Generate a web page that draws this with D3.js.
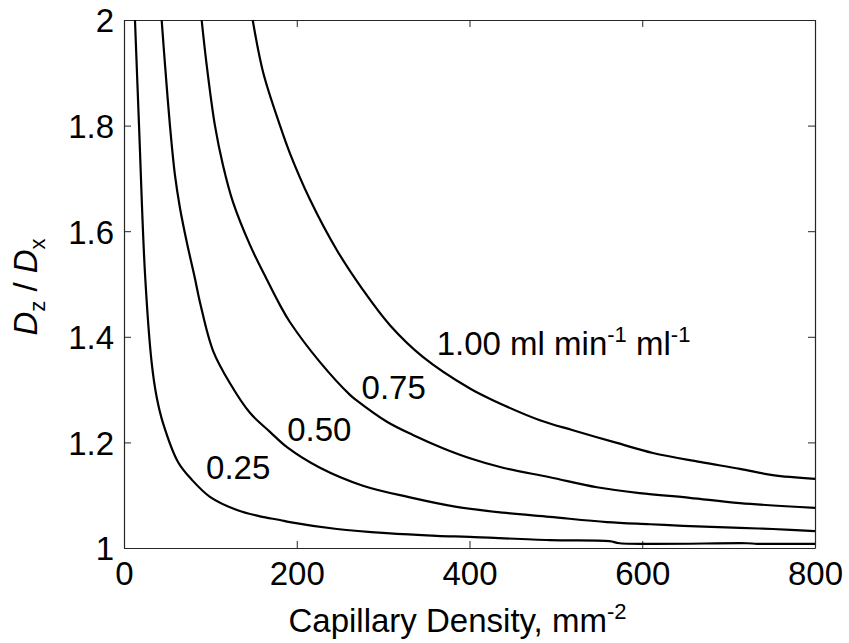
<!DOCTYPE html>
<html>
<head>
<meta charset="utf-8">
<script src="https://cdn.jsdelivr.net/npm/d3@7"></script>
<style>
  body { margin: 0; background: #fff; }
  text { font-family: "Liberation Sans", Arial, sans-serif; fill: #000; }
</style>
</head>
<body>
<div id="graph"></div>
<script>
// D_z / D_x against capillary density, one curve per flow
var flow025 = [[12.7,2.0],[17.4,1.80],[24.3,1.52],[32.1,1.35],[37.8,1.286],[45.1,1.237],
  [62.5,1.163],[78.7,1.129],[99.5,1.097],[130.8,1.072],[157.4,1.06],[180.6,1.053],[192,1.049],
  [246.5,1.036],[304,1.028],[362,1.023],[400,1.021],[493,1.015],[562,1.013],[574,1.009],
  [721,1.009],[733,1.008],[800,1.008]]
var flow050 = [[43.6,2.0],[47.5,1.915],[53.2,1.80],[59,1.706],[64.8,1.644],[72.6,1.58],[82.2,1.51],
  [88,1.465],[103,1.374],[122.7,1.312],[145.8,1.256],[169,1.22],[188.7,1.191],[226.9,1.152],
  [276.6,1.118],[331,1.096],[385,1.078],[438.7,1.067],[493,1.059],[559,1.049],[609,1.045],
  [647,1.042],[713,1.038],[751,1.036],[800,1.032]]
var flow075 = [[89.9,2.0],[95.7,1.915],[105.3,1.80],[114.6,1.725],[126.2,1.655],[145.8,1.574],
  [165.5,1.508],[180.6,1.46],[192,1.428],[226.9,1.352],[261.6,1.29],[269.7,1.279],[304.4,1.239],
  [334.5,1.214],[369.2,1.189],[400.5,1.17],[438.7,1.152],[493,1.134],[547.5,1.115],[597,1.104],
  [655,1.095],[713,1.085],[800,1.076]]
var flow100 = [[149,2.0],[161.2,1.90],[180.6,1.80],[192,1.748],[215.3,1.66],[246.5,1.564],
  [276.6,1.489],[307.9,1.422],[346,1.362],[400.5,1.302],[427,1.28],[481.5,1.242],[519.7,1.223],
  [570.6,1.199],[612.3,1.18],[666.7,1.163],[713,1.15],[751,1.138],[800,1.131]]

var curves = [flow025, flow050, flow075, flow100]
var curveLabels = ['0.25', '0.50', '0.75', '1.00']
var labelAt = [[95, 1.13], [189, 1.202], [275, 1.283], [362, 1.365]]

var xTicks = [0, 200, 400, 600, 800]
var yTicks = [1, 1.2, 1.4, 1.6, 1.8, 2]

var W = 849, H = 643
var margin = {left: 124, right: 34, top: 20, bottom: 95}
var width = W - margin.left - margin.right
var height = H - margin.top - margin.bottom
var fs = 33, fsSmall = 22

var svg = d3.select('#graph').append('svg')
  .attr('width', W).attr('height', H)

var g = svg.append('g').attr('transform', `translate(${margin.left},${margin.top})`)

var x = d3.scaleLinear().domain([0, 800]).range([0, width])
var y = d3.scaleLinear().domain([1, 2]).range([height, 0])

var fmtY = d => d === 1 || d === 2 ? String(d) : d.toFixed(1)

// axes, ticks inward on all four sides
var axes = [
  [d3.axisBottom(x), `translate(0,${height})`, true],
  [d3.axisTop(x), 'translate(0,0)', false],
  [d3.axisLeft(y), 'translate(0,0)', true],
  [d3.axisRight(y), `translate(${width},0)`, false],
]
axes.forEach(([ax, tr, labelled], i) => {
  var isX = i < 2
  ax.tickValues(isX ? xTicks : yTicks).tickSizeInner(-7).tickSizeOuter(0)
    .tickFormat(labelled ? (isX ? d3.format('d') : fmtY) : '')
  var a = g.append('g').attr('transform', tr).call(ax)
  a.select('.domain').attr('stroke', '#262626').attr('stroke-width', 1.2)
  a.selectAll('.tick line').attr('stroke', '#262626')
  a.selectAll('.tick text').attr('font-size', fs).attr('fill', '#000')
    .attr('font-family', '"Liberation Sans", Arial, sans-serif')
  if (isX) a.selectAll('.tick text').attr('dy', labelled ? '0.71em' : 0).attr('y', 14)
  else a.selectAll('.tick text').attr('x', -10).attr('dy', '0.36em')
})

var line = d3.line().x(d => x(d[0])).y(d => y(d[1])).curve(d3.curveCatmullRom.alpha(0.5))

g.selectAll('path.curve').data(curves).enter().append('path')
  .attr('class', 'curve')
  .attr('d', line)
  .attr('fill', 'none')
  .attr('stroke', '#000')
  .attr('stroke-width', 2.2)
  .attr('stroke-linejoin', 'round')

// curve labels
curveLabels.forEach((t, i) => {
  var tx = g.append('text')
    .attr('x', x(labelAt[i][0])).attr('y', y(labelAt[i][1]))
    .attr('font-size', fs)
    .text(t)
  if (i == 3) {
    tx.append('tspan').text(' ml min')
    tx.append('tspan').attr('font-size', fsSmall).attr('dy', -13).text('-1')
    tx.append('tspan').attr('dy', 13).text(' ml')
    tx.append('tspan').attr('font-size', fsSmall).attr('dy', -13).text('-1')
  }
})

// x label
var xl = svg.append('text')
  .attr('x', margin.left + width / 2 - 12).attr('y', 632)
  .attr('text-anchor', 'middle').attr('font-size', fs)
  .text('Capillary Density, mm')
xl.append('tspan').attr('font-size', fsSmall).attr('dy', -13).text('-2')

// y label
var yl = svg.append('text')
  .attr('transform', 'translate(37,287) rotate(-90)')
  .attr('text-anchor', 'middle').attr('font-size', fs)
yl.append('tspan').attr('font-style', 'italic').text('D')
yl.append('tspan').attr('font-size', fsSmall).attr('dy', 8).text('z')
yl.append('tspan').attr('dy', -8).text(' / ')
yl.append('tspan').attr('font-style', 'italic').text('D')
yl.append('tspan').attr('font-size', fsSmall).attr('dy', 8).text('x')
</script>
</body>
</html>
